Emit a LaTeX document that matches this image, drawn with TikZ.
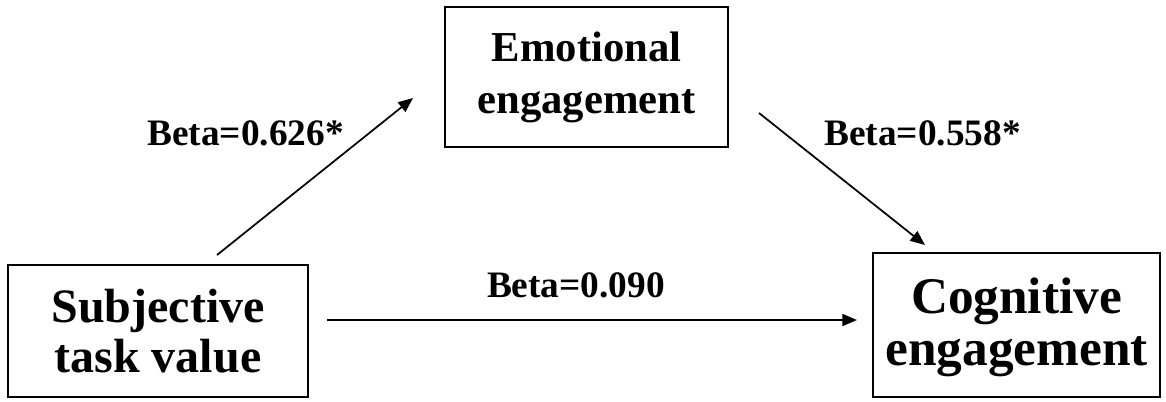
\documentclass[tikz,border=0pt]{standalone}
\usepackage{fontspec}
\setmainfont{Liberation Serif}
\usetikzlibrary{arrows.meta}
\begin{document}
\begin{tikzpicture}[x=0.75pt,y=-0.75pt,
  box/.style={draw,line width=1.5pt,inner sep=0pt,align=center,font=\bfseries},
  path/.style={line width=1.3pt,-{Triangle[length=11pt,width=9pt]}},
  coef/.style={font=\bfseries\fontsize{28}{30}\selectfont,inner sep=0pt}]
\useasboundingbox (0,0) rectangle (1166,401);
% variables
\node[box,minimum width=225pt,minimum height=99pt,
      font=\bfseries\fontsize{36}{37.5}\selectfont] (stv) at (158,331)
      {Subjective\\task value};
\node[box,minimum width=212.25pt,minimum height=105pt,
      font=\bfseries\fontsize{32}{39}\selectfont] (emo) at (586.5,77)
      {Emotional\\engagement};
\node[box,minimum width=215.25pt,minimum height=108pt,
      font=\bfseries\fontsize{38.5}{39}\selectfont] (cog) at (1016.5,325)
      {\rule{0pt}{30pt}Cognitive\\engagement};
% path end points
\coordinate (a1s) at (217,255);
\coordinate (a1e) at (413,98);
\coordinate (a2s) at (759,113);
\coordinate (a2e) at (925,245);
\coordinate (a3s) at (327,320);
\coordinate (a3e) at (857,320);
\draw[path] (a1s) -- (a1e);
\draw[path] (a2s) -- (a2e);
\draw[path] (a3s) -- (a3e);
% coefficients
\node[coef] (b1) at (245.5,133) {Beta=0.626*};
\node[coef] (b2) at (922.5,133) {Beta=0.558*};
\node[coef] (b3) at (576,285) {Beta=0.090};
\end{tikzpicture}
\end{document}
